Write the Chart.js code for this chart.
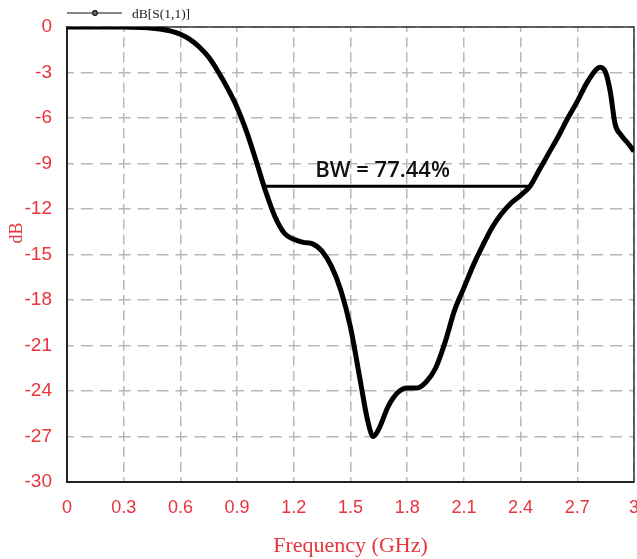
<!DOCTYPE html>
<html>
<head>
<meta charset="utf-8">
<title>dB[S(1,1)]</title>
<script src="https://cdn.jsdelivr.net/npm/chart.js@4.4.1/dist/chart.umd.min.js"></script>
<style>
  html, body { margin: 0; padding: 0; background: #fff; }
  canvas { display: block; }
</style>
</head>
<body>
<canvas id="s11" width="637" height="559"></canvas>
<script>
// Frequency sweep (GHz) and return loss.
var freqGHz = [0, 0.1, 0.2, 0.3, 0.4, 0.45, 0.5, 0.55, 0.6, 0.65, 0.7, 0.75, 0.8, 0.85, 0.9, 0.95,
    1.0, 1.05, 1.1, 1.15, 1.2, 1.25, 1.3, 1.35, 1.4, 1.45, 1.5, 1.55, 1.59, 1.62, 1.65, 1.7, 1.75,
    1.8, 1.85, 1.9, 1.95, 2.0, 2.05, 2.1, 2.15, 2.2, 2.25, 2.3, 2.35, 2.4, 2.45, 2.5, 2.55, 2.6,
    2.65, 2.7, 2.75, 2.8, 2.82, 2.85, 2.875, 2.9, 2.93, 2.97, 3.0];
var s11dB = [0, 0, 0, 0, -0.04, -0.08, -0.15, -0.27, -0.48, -0.82, -1.32, -2.0, -2.95, -4.05, -5.3, -6.9,
    -8.8, -10.8, -12.5, -13.6, -14.0, -14.2, -14.3, -14.8, -15.8, -17.4, -19.8, -23.2, -25.9, -27.0, -26.5, -25.0, -24.1,
    -23.8, -23.8, -23.4, -22.5, -20.8, -18.7, -17.2, -15.7, -14.4, -13.2, -12.3, -11.6, -11.1, -10.5, -9.4, -8.3, -7.2,
    -6.0, -4.9, -3.7, -2.8, -2.65, -3.0, -4.3, -6.4, -7.1, -7.7, -8.2];

// Bandwidth marker between the two -10.5 dB crossings.
var bwFreq = [1.037, 2.45];
var bwLevel = [-10.5, -10.5];
var bwLabel = 'BW = 77.44%';
var bwLabelAt = 1.67;

var xTicks = [0, 0.3, 0.6, 0.9, 1.2, 1.5, 1.8, 2.1, 2.4, 2.7, 3];
var yTicks = [0, -3, -6, -9, -12, -15, -18, -21, -24, -27, -30];

var labelRed = '#e8343c';
var gridGrey = '#b8b8b8';
var tickFont = '"Liberation Sans", Arial, sans-serif';
var serifFont = '"Liberation Serif", "DejaVu Serif", serif';

function zip(xs, ys) {
    return xs.map(function (x, i) {
        return {x: x, y: ys[i]};
    });
}

/**
 * Frame, legend, y title and the BW text.
 */
var decorations = {
    id: 'decorations',
    beforeDatasetsDraw: function (chart) {
        var a = chart.chartArea;
        var ctx = chart.ctx;
        ctx.save();
        ctx.strokeStyle = '#333';
        ctx.lineWidth = 1.5;
        ctx.beginPath();
        ctx.moveTo(a.left, a.top);
        ctx.lineTo(a.right, a.top);
        ctx.lineTo(a.right, a.bottom);
        ctx.stroke();
        ctx.restore();
    },
    afterDraw: function (chart) {
        var ctx = chart.ctx;
        var a = chart.chartArea;
        var x = chart.scales.x;
        var y = chart.scales.y;
        ctx.save();

        // Legend sample: line with a small dot.
        var ly = 13;
        ctx.strokeStyle = '#111';
        ctx.lineWidth = 1.2;
        ctx.beginPath();
        ctx.moveTo(a.left, ly);
        ctx.lineTo(a.left + 55, ly);
        ctx.stroke();
        ctx.beginPath();
        ctx.arc(a.left + 28, ly, 2.3, 0, Math.PI * 2);
        ctx.fillStyle = '#777';
        ctx.fill();
        ctx.stroke();
        ctx.fillStyle = '#222';
        ctx.font = '13.5px ' + serifFont;
        ctx.textBaseline = 'middle';
        ctx.textAlign = 'left';
        ctx.fillText(chart.data.datasets[0].label, a.left + 65, ly + 1);

        // BW annotation text.
        ctx.fillStyle = '#111';
        ctx.font = '600 22px "Open Sans", sans-serif';
        ctx.textAlign = 'center';
        ctx.textBaseline = 'alphabetic';
        ctx.fillText(bwLabel, x.getPixelForValue(bwLabelAt), y.getPixelForValue(bwLevel[0]) - 9);

        // Y axis title, sits a little above centre in the original.
        ctx.translate(17, 233);
        ctx.rotate(-Math.PI / 2);
        ctx.fillStyle = labelRed;
        ctx.font = '18px ' + serifFont;
        ctx.textAlign = 'center';
        ctx.textBaseline = 'middle';
        ctx.fillText('dB', 0, 0);
        ctx.restore();
    }
};

var chart = new Chart(document.getElementById('s11'), {
    type: 'line',
    data: {
        datasets: [
            {
                label: 'dB[S(1,1)]',
                data: zip(freqGHz, s11dB),
                borderColor: '#000',
                borderWidth: 5,
                pointRadius: 0,
                fill: false,
                cubicInterpolationMode: 'monotone'
            },
            {
                label: 'BW',
                data: zip(bwFreq, bwLevel),
                borderColor: '#000',
                borderWidth: 3,
                pointRadius: 0,
                fill: false
            }
        ]
    },
    options: {
        responsive: false,
        animation: false,
        devicePixelRatio: 1,
        layout: {
            padding: {top: 27, right: 3, bottom: 0, left: 0}
        },
        plugins: {
            legend: {display: false},
            tooltip: {enabled: false}
        },
        scales: {
            x: {
                type: 'linear',
                min: 0,
                max: 3,
                afterBuildTicks: function (scale) {
                    scale.ticks = xTicks.map(function (v) {
                        return {value: v};
                    });
                },
                afterFit: function (scale) {
                    scale.height = 77;
                    scale.paddingLeft = 0;
                    scale.paddingRight = 0;
                },
                ticks: {
                    color: labelRed,
                    font: {family: tickFont, size: 18},
                    padding: 15,
                    maxRotation: 0,
                    autoSkip: false,
                    callback: function (v) {
                        return String(v);
                    }
                },
                grid: {
                    color: gridGrey,
                    lineWidth: 1.5,
                    drawTicks: false
                },
                border: {
                    color: '#222',
                    width: 2,
                    dash: [10, 5.17],
                    dashOffset: 5
                },
                title: {
                    display: true,
                    text: 'Frequency (GHz)',
                    color: labelRed,
                    font: {family: serifFont, size: 22},
                    padding: {top: 0, bottom: 0}
                }
            },
            y: {
                min: -30,
                max: 0,
                afterBuildTicks: function (scale) {
                    scale.ticks = yTicks.map(function (v) {
                        return {value: v};
                    });
                },
                afterFit: function (scale) {
                    scale.width = 67;
                    scale.paddingTop = 0;
                    scale.paddingBottom = 0;
                },
                ticks: {
                    color: labelRed,
                    font: {family: tickFont, size: 19},
                    padding: 15
                },
                grid: {
                    color: gridGrey,
                    lineWidth: 1.5,
                    drawTicks: false
                },
                border: {
                    color: '#222',
                    width: 2,
                    dash: [12, 6.9],
                    dashOffset: 6
                }
            }
        }
    },
    plugins: [decorations]
});
</script>
</body>
</html>
